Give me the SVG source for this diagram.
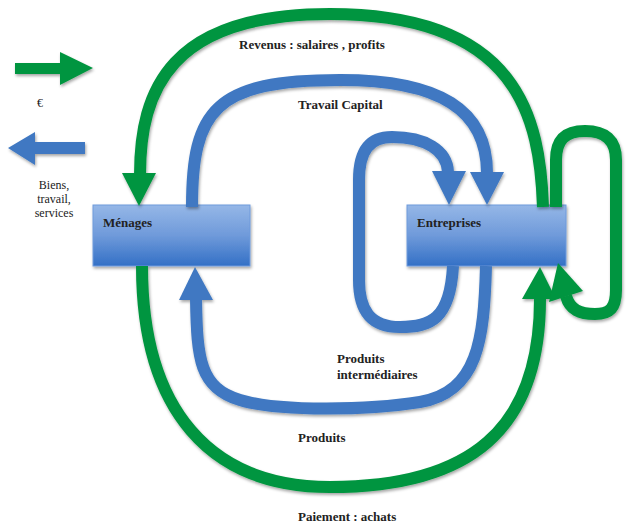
<svg xmlns="http://www.w3.org/2000/svg" width="629" height="523" viewBox="0 0 629 523">
<style>
.g{fill:none;stroke:#03953f;stroke-width:12}
.b{fill:none;stroke:#3f78c2;stroke-width:12}
.gh{fill:#03953f}
.bh{fill:#3f78c2}
.t{font-family:"Liberation Serif","Times New Roman",serif;font-size:13px;font-weight:bold;fill:#222}
.tn{font-family:"Liberation Serif","Times New Roman",serif;font-size:12px;fill:#222}
.box{fill:url(#bg);stroke:#6f9bdc;stroke-width:1}
</style>
<defs>
<linearGradient id="bg" x1="0" y1="0" x2="0" y2="1">
<stop offset="0" stop-color="#95b7e7"/>
<stop offset="0.5" stop-color="#6f9ada"/>
<stop offset="1" stop-color="#3370c6"/>
</linearGradient>
<filter id="sh" x="-10%" y="-10%" width="130%" height="130%">
<feDropShadow dx="1" dy="2" stdDeviation="1.5" flood-color="#000" flood-opacity="0.35"/>
</filter>
</defs>

<g id="legend">
<g filter="url(#sh)">
<path class="gh" d="M15 63 L60 63 L60 52 L93 68 L60 85 L60 74 L15 74 Z"/>
<path class="bh" d="M85 142 L35 142 L35 132 L8 148 L35 165 L35 154 L85 154 Z"/>
</g>
<text class="tn" x="40" y="107" text-anchor="middle">€</text>
<text class="tn" x="54" y="189" text-anchor="middle">Biens,</text>
<text class="tn" x="54" y="203" text-anchor="middle">travail,</text>
<text class="tn" x="54" y="217" text-anchor="middle">services</text>
</g>

<g id="menages">
<rect class="box" x="93" y="205" width="157" height="61" filter="url(#sh)"/>
<text class="t" x="103" y="227">Ménages</text>
</g>

<g id="entreprises">
<rect class="box" x="407" y="205" width="159" height="61" filter="url(#sh)"/>
<text class="t" x="417" y="227">Entreprises</text>
</g>

<g id="connectors" filter="url(#sh)">
<!-- Revenus -->
<path class="g" d="M543 207 C540 120 520 14 330 14 C170 14 140 90 140 175"/>
<polygon class="gh" points="122,173 156,173 139,206"/>
<!-- Paiement -->
<path class="g" d="M142 266 C142 410 210 487 330 487 C470 487 540 430 540 299"/>
<polygon class="gh" points="522,299 556,299 540,267"/>
<!-- self loop -->
<path class="g" d="M556 207 L556 160 C556 140 565 131 585 131 C605 131 616 140 616 160 L616 290 C616 308 610 314 595 314 C580 314 570 310 566 296"/>
<polygon class="gh" points="549,302 583,291 558,263"/>
<!-- Travail Capital -->
<path class="b" d="M192 207 C192 110 215 80 340 80 C440 80 487 110 487 173"/>
<polygon class="bh" points="470,172 504,172 487,205"/>
<!-- Produits intermediaires -->
<path class="b" d="M453 266 C450 320 430 327 400 327 C370 327 359 310 359 280 L359 180 C359 150 370 137 392 137 C425 137 447 150 448 172"/>
<polygon class="bh" points="432,171 466,171 449,205"/>
<!-- Produits -->
<path class="b" d="M486 266 C484 340 478 392 420 402 C370 410 280 412 240 400 C200 388 197 360 196 299"/>
<polygon class="bh" points="179,300 213,300 195,267"/>
</g>

<g id="labels">
<text class="t" x="239" y="49">Revenus : salaires , profits</text>
<text class="t" x="298" y="109">Travail Capital</text>
<text class="t" x="337" y="363">Produits</text>
<text class="t" x="337" y="379">intermédiaires</text>
<text class="t" x="298" y="442">Produits</text>
<text class="t" x="298" y="521">Paiement : achats</text>
</g>
</svg>
